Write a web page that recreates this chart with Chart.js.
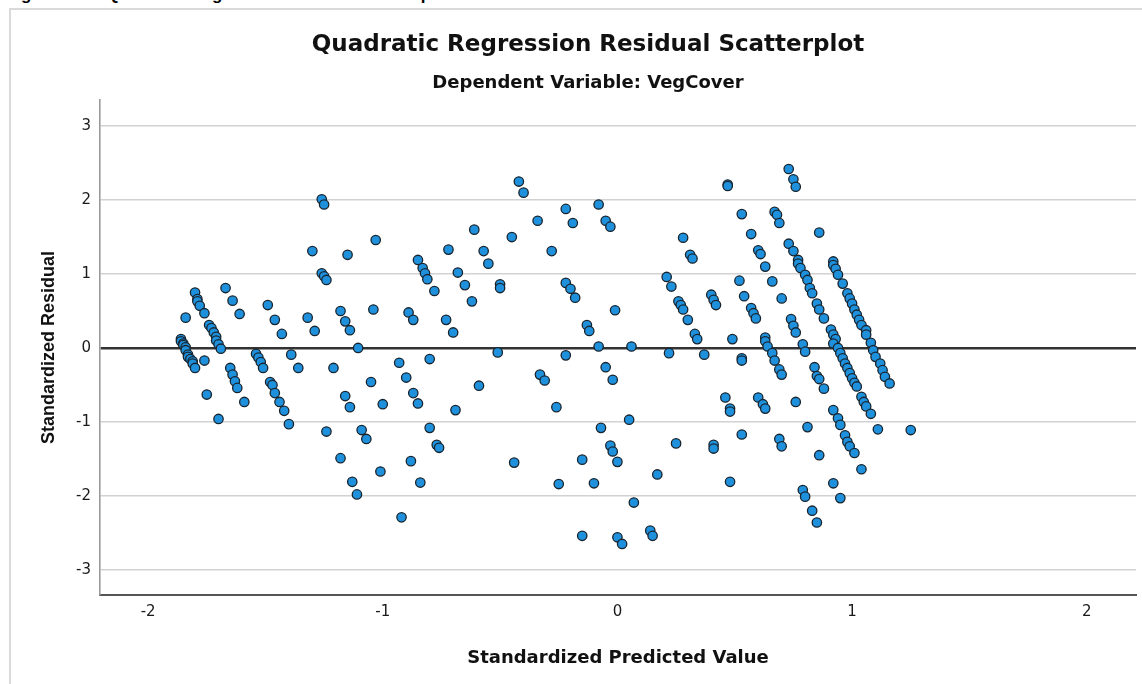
<!DOCTYPE html>
<html>
<head>
<meta charset="utf-8">
<script src="https://cdn.jsdelivr.net/npm/chart.js@4.4.1/dist/chart.umd.min.js"></script>
<style>
  body { margin: 0; background: #fff; overflow: hidden; }
  #wrap { position: relative; width: 1142px; height: 684px; overflow: hidden; }
  #frame { position: absolute; left: 9px; top: 8px; width: 1200px; height: 720px; border: 2px solid #dadada; }
  #caption { position: absolute; left: 6px; top: -15px; font: bold 17px "Liberation Sans", Arial, sans-serif; color: #000; white-space: nowrap; }
  #myChart { position: absolute; left: 0; top: 0; }
</style>
</head>
<body>
<div id="wrap">
  <div id="caption">Figure 4.12: Quadratic Regression Residual Scatterplot</div>
  <div id="frame"></div>
  <canvas id="myChart" width="1142" height="684"></canvas>
</div>
<script>
// Data

const chartTitle = "Quadratic Regression Residual Scatterplot";
const chartSubtitle = "Dependent Variable: VegCover";
const xLabel = "Standardized Predicted Value";
const yLabel = "Standardized Residual";

// standardized predicted value (x)
const predicted = [
  -1.26, -1.25, -1.30, -1.15, -1.26, -1.25, -1.24, -1.80, -1.79, -1.79,
  -1.78, -1.76, -1.84, -1.67, -1.64, -1.61, -1.49, -1.46, -1.43, -1.32,
  -1.29, -1.18, -1.16, -1.14, -1.04, -1.74, -1.73, -1.72, -1.71, -1.71,
  -1.70, -1.69, -1.86, -1.86, -1.85, -1.85, -1.84, -1.84, -1.83, -1.83,
  -1.82, -1.81, -1.81, -1.80, -1.105,
  -1.76, -1.75, -1.70, -1.65, -1.64, -1.63, -1.62, -1.59, -1.54, -1.53,
  -1.52, -1.51, -1.48, -1.47, -1.46, -1.44, -1.42, -1.40, -1.39, -1.36,
  -1.21, -1.05, -1.16, -1.14, -1.24, -1.09, -1.07, -1.18, -1.13, -1.11,
  -0.42, -0.40, -0.34, -0.22, -0.19, -0.08, -0.05, -0.03, -1.03, -0.61,
  -0.45, -0.72, -0.57, -0.55, -0.28, -0.85, -0.83, -0.82, -0.81, -0.78,
  -0.68, -0.65, -0.62, -0.50, -0.50, -0.22, -0.20, -0.18, -0.01, -0.13,
  -0.12, -0.89, -0.87, -0.73, -0.70, -0.08, -0.51,
  -0.22, -0.93, -0.80, -0.90, -0.87, -0.85, -1.00, -0.69, -0.59, -0.33,
  -0.31, -0.26, -0.05, -0.02, -0.80, -0.77, -0.76, -0.88, -1.01, -0.84,
  -0.44, -0.25, -0.15, -0.10, -0.07, -0.03, -0.02, 0.00, 0.05, -0.92,
  -0.15, 0.00, 0.02,
  0.73, 0.75, 0.76, 0.47, 0.47, 0.53, 0.67, 0.68, 0.69, 0.57,
  0.86, 0.28, 0.31, 0.32, 0.60, 0.61, 0.63, 0.73, 0.75, 0.77,
  0.77, 0.78, 0.80, 0.81, 0.82, 0.83, 0.85, 0.86, 0.88, 0.52,
  0.66, 0.54, 0.70, 0.57, 0.58, 0.59, 0.21, 0.23, 0.26, 0.27,
  0.28, 0.30, 0.33, 0.34, 0.40, 0.41, 0.42, 0.49, 0.74, 0.75,
  0.76, 0.63, 0.63, 0.64, 0.79, 0.92, 0.92, 0.93, 0.94, 0.96,
  0.98, 0.99, 1.00, 1.01, 1.02, 1.03, 1.04, 1.06, 1.06, 1.08,
  0.91, 0.92, 0.93, 0.06,
  0.22, 0.37, 0.53, 0.53, 0.66, 0.67, 0.69, 0.70, 0.80, 0.84,
  0.85, 0.86, 0.88, 0.92, 0.94, 0.95, 0.96, 0.97, 0.98, 0.99,
  1.00, 1.01, 1.02, 1.09, 1.10, 1.12, 1.13, 1.14, 1.16, 1.04,
  1.05, 1.06, 1.08, 1.11, 0.92, 0.94, 0.95, 0.97, 0.98, 0.99,
  1.01, 1.04, 0.92, 0.95, 0.81, 0.86, 0.79, 0.80, 0.83, 0.85,
  0.76, 0.46, 0.48, 0.48, 0.60, 0.62, 0.63, 0.53, 0.69, 0.70,
  0.25, 0.41, 0.41, 0.17, 0.48, 0.07, 0.14, 0.15, 1.25
];

// standardized residual (y)
const residual = [
  2.01, 1.94, 1.31, 1.26, 1.01, 0.97, 0.92, 0.75, 0.66, 0.63,
  0.57, 0.47, 0.41, 0.81, 0.64, 0.46, 0.58, 0.38, 0.19, 0.41,
  0.23, 0.50, 0.36, 0.24, 0.52, 0.31, 0.27, 0.21, 0.15, 0.10,
  0.05, -0.01, 0.12, 0.09, 0.06, 0.04, 0.01, -0.03, -0.09, -0.12,
  -0.15, -0.18, -0.21, -0.27, 0.00,
  -0.17, -0.63, -0.96, -0.27, -0.36, -0.45, -0.54, -0.73, -0.08, -0.13,
  -0.19, -0.27, -0.46, -0.50, -0.61, -0.73, -0.85, -1.03, -0.09, -0.27,
  -0.27, -0.46, -0.65, -0.80, -1.13, -1.11, -1.23, -1.49, -1.81, -1.98,
  2.25, 2.10, 1.72, 1.88, 1.69, 1.94, 1.72, 1.64, 1.46, 1.60,
  1.50, 1.33, 1.31, 1.14, 1.31, 1.19, 1.08, 1.01, 0.93, 0.77,
  1.02, 0.85, 0.63, 0.86, 0.81, 0.88, 0.80, 0.68, 0.51, 0.31,
  0.23, 0.48, 0.38, 0.38, 0.21, 0.02, -0.06,
  -0.10, -0.20, -0.15, -0.40, -0.61, -0.75, -0.76, -0.84, -0.51, -0.36,
  -0.44, -0.80, -0.26, -0.43, -1.08, -1.31, -1.35, -1.53, -1.67, -1.82,
  -1.55, -1.84, -1.51, -1.83, -1.08, -1.32, -1.40, -1.54, -0.97, -2.29,
  -2.54, -2.56, -2.65,
  2.42, 2.28, 2.18, 2.21, 2.19, 1.81, 1.84, 1.80, 1.69, 1.54,
  1.56, 1.49, 1.26, 1.21, 1.32, 1.27, 1.10, 1.41, 1.31, 1.19,
  1.14, 1.08, 0.99, 0.92, 0.81, 0.74, 0.60, 0.52, 0.40, 0.91,
  0.90, 0.70, 0.67, 0.54, 0.47, 0.40, 0.96, 0.83, 0.63, 0.58,
  0.52, 0.38, 0.19, 0.12, 0.72, 0.65, 0.58, 0.12, 0.39, 0.30,
  0.21, 0.14, 0.09, 0.02, 0.05, 1.17, 1.12, 1.07, 0.99, 0.87,
  0.74, 0.67, 0.60, 0.52, 0.45, 0.38, 0.31, 0.24, 0.18, 0.07,
  0.25, 0.18, 0.12, 0.02,
  -0.07, -0.09, -0.14, -0.17, -0.07, -0.17, -0.29, -0.36, -0.05, -0.26,
  -0.38, -0.42, -0.55, 0.06, 0.00, -0.07, -0.14, -0.21, -0.27, -0.34,
  -0.41, -0.47, -0.52, -0.03, -0.12, -0.21, -0.30, -0.39, -0.48, -0.66,
  -0.73, -0.79, -0.89, -1.10, -0.84, -0.95, -1.04, -1.18, -1.27, -1.33,
  -1.42, -1.64, -1.83, -2.03, -1.07, -1.45, -1.92, -2.01, -2.20, -2.36,
  -0.73, -0.67, -0.82, -0.86, -0.67, -0.76, -0.82, -1.17, -1.23, -1.33,
  -1.29, -1.31, -1.36, -1.71, -1.81, -2.09, -2.47, -2.54, -1.11
];

// Build the point list for the scatter dataset

let points = [];
for (let i = 0; i < predicted.length; i++) {
  points.push({ x: predicted[i], y: residual[i] });
}

// Chart

const fontWide = "DejaVu Sans";
const fontPlain = "Liberation Sans";

const ctx = document.getElementById("myChart").getContext("2d");
const chart = new Chart(ctx, {
  type: "scatter",
  data: {
    datasets: [
      {
        data: points,
        backgroundColor: "#1e90dc",
        borderColor: "#18242e",
        borderWidth: 1.3,
        pointRadius: 4.7,
      },
    ],
  },
  options: {
    responsive: false,
    animation: false,
    layout: { padding: { left: 38, right: 4, top: 0, bottom: 0 } },
    plugins: {
      legend: { display: false },
      tooltip: { enabled: false },
      title: {
        display: true,
        text: chartTitle,
        color: "#111",
        font: { family: fontWide, size: 23, weight: "bold" },
        padding: { top: 31, bottom: 0 },
      },
      subtitle: {
        display: true,
        text: chartSubtitle,
        color: "#111",
        font: { family: fontWide, size: 18, weight: "bold" },
        padding: { top: 14, bottom: 6 },
      },
    },
    scales: {
      x: {
        type: "linear",
        min: -2.205,
        max: 2.21,
        afterFit: (scale) => { scale.height = 89; },
        ticks: {
          stepSize: 1,
          includeBounds: false,
          padding: 8,
          color: "#1a1a1a",
          font: { family: fontWide, size: 15 },
        },
        grid: { display: false, drawTicks: false },
        border: { display: true, color: "#555", width: 2 },
        title: {
          display: true,
          text: xLabel,
          color: "#111",
          font: { family: fontWide, size: 18, weight: "bold" },
          padding: { top: 0, bottom: 15 },
        },
      },
      y: {
        type: "linear",
        min: -3.34,
        max: 3.35,
        afterFit: (scale) => { scale.width = 62; },
        ticks: {
          stepSize: 1,
          includeBounds: false,
          padding: 9,
          color: "#1a1a1a",
          font: { family: fontWide, size: 15 },
        },
        grid: {
          drawTicks: false,
          color: (c) => (c.tick && c.tick.value === 0 ? "#333" : "#d2d2d2"),
          lineWidth: (c) => (c.tick && c.tick.value === 0 ? 2.5 : 1.6),
        },
        border: { display: true, color: "#9a9a9a", width: 1.6 },
        title: {
          display: true,
          text: yLabel,
          color: "#111",
          font: { family: fontPlain, size: 18, weight: "bold" },
          padding: { top: 0, bottom: 0 },
        },
      },
    },
  },
});
</script>
</body>
</html>
